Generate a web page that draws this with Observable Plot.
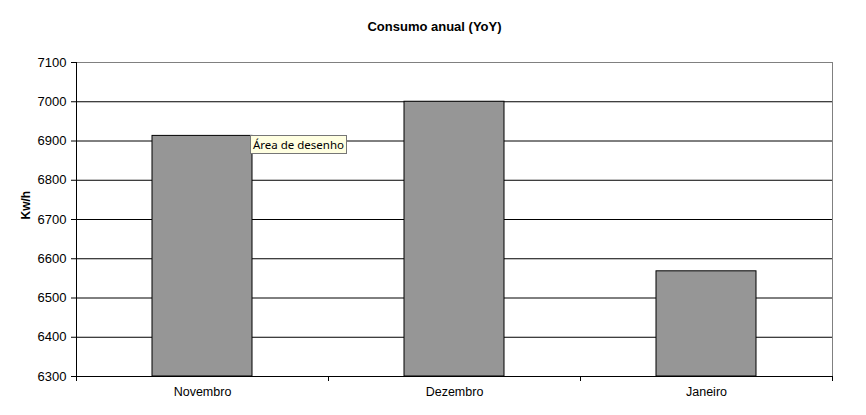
<!DOCTYPE html>
<html>
<head>
<meta charset="utf-8">
<script src="https://cdn.jsdelivr.net/npm/d3@7"></script>
<script src="https://cdn.jsdelivr.net/npm/@observablehq/plot@0.6"></script>
<style>
  body { margin: 0; background: white; }
  #wrap { position: relative; width: 866px; height: 415px; }
  #tip {
    position: absolute; left: 250px; top: 135px; width: 95px; height: 17px;
    background: #ffffe1; border: 1px solid #767676;
    font: 11.5px "Noto Sans", "DejaVu Sans", sans-serif; color: #000;
    line-height: 17px; text-align: center; box-sizing: content-box;
  }
</style>
</head>
<body>
<div id="wrap"></div>
<script>
const categories = ["Novembro", "Dezembro", "Janeiro"];
const values = [6913, 7000, 6568];
const yTicks = [6300, 6400, 6500, 6600, 6700, 6800, 6900, 7000, 7100];
const title = "Consumo anual (YoY)";
const yLabel = "Kw/h";
const tipText = "Área de desenho";

const data = categories.map((c, i) => ({cat: c, value: values[i]}));

const chart = Plot.plot({
  width: 866,
  height: 415,
  marginLeft: 76,
  marginRight: 34,
  marginTop: 62,
  marginBottom: 39,
  style: {fontFamily: "'Liberation Sans', Arial, sans-serif", fontSize: "12px", background: "white", color: "black", overflow: "visible"},
  x: {domain: categories, paddingInner: 0.603, paddingOuter: 0.3015, label: null},
  y: {domain: [6300, 7100], label: null},
  marks: [
    Plot.ruleY(yTicks.filter(d => d < 7100), {stroke: "black", strokeWidth: 1}),
    Plot.ruleY([7100], {stroke: "#808080"}),
    Plot.frame({anchor: "right", stroke: "#808080"}),
    Plot.barY(data, {x: "cat", y1: 6300, y2: "value", fill: "#969696", stroke: "black", strokeWidth: 1}),
    Plot.frame({anchor: "left", stroke: "black"}),
    Plot.frame({anchor: "bottom", stroke: "black"}),
    Plot.axisY({ticks: yTicks, tickFormat: d => String(d), tickSize: 5, tickPadding: 5, fontSize: 13, label: null}),
    Plot.axisX({text: null, tickSize: 5, dx: 126, label: null}),
    Plot.axisX({text: null, tickSize: 5, dx: -126, label: null}),
    Plot.axisX({tickSize: 0, tickPadding: 11, fontSize: 12.5, label: null}),
    Plot.text([title], {frameAnchor: "top", dx: -20, dy: -41, fontWeight: "bold", fontSize: 13}),
    Plot.text([yLabel], {frameAnchor: "left", dx: -50, rotate: -90, fontWeight: "bold", fontSize: 12})
  ]
});

const wrap = document.getElementById("wrap");
wrap.appendChild(chart);
const tip = document.createElement("div");
tip.id = "tip";
tip.textContent = tipText;
wrap.appendChild(tip);
</script>
</body>
</html>
